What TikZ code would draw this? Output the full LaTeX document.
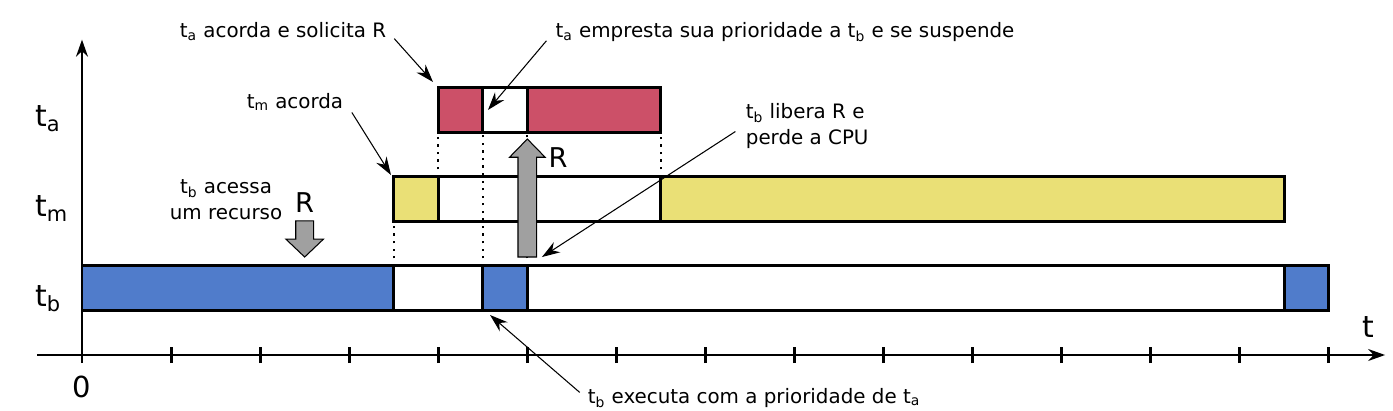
\documentclass[tikz,border=0pt]{standalone}
\usepackage{fontspec}
\setmainfont{DejaVu Sans}
\usetikzlibrary{arrows.meta}

\definecolor{redA}{HTML}{CC5068}
\definecolor{yellowM}{HTML}{EAE076}
\definecolor{blueB}{HTML}{507CCB}
\definecolor{resgray}{HTML}{A0A0A0}

\tikzset{
	bar/.style={draw, line width=1.7pt},
	guide/.style={line width=1.3pt, dash pattern=on 1.3pt off 3pt},
	tickmark/.style={line width=1.7pt},
	resarrow/.style={draw, fill=resgray, line width=0.6pt, line join=miter},
	callout/.style={line width=0.6pt, -{Stealth[length=3.6mm, width=2.4mm]}},
	lbl/.style={font=\fontsize{11.3}{14.8}\selectfont, inner sep=1pt},
	rowlbl/.style={font=\fontsize{17}{20}\selectfont, anchor=base west, inner sep=0pt}
}

\begin{document}
\begin{tikzpicture}[x=1.7814cm, y=1.7814cm]
		\useasboundingbox (-0.9206, -0.6287) rectangle (14.719, 3.9857);
		
		% eixos
		\draw[line width=0.85pt, -{Stealth[length=3.4mm, width=2.4mm]}] (-0.505, 0) -- (14.63, 0);
		\draw[line width=0.85pt, -{Stealth[length=3.4mm, width=2.4mm]}] (0, -0.09) -- (0, 3.54);
		\draw[tickmark] (1, -0.09) -- (1, 0.09);
		\draw[tickmark] (2, -0.09) -- (2, 0.09);
		\draw[tickmark] (3, -0.09) -- (3, 0.09);
		\draw[tickmark] (4, -0.09) -- (4, 0.09);
		\draw[tickmark] (5, -0.09) -- (5, 0.09);
		\draw[tickmark] (6, -0.09) -- (6, 0.09);
		\draw[tickmark] (7, -0.09) -- (7, 0.09);
		\draw[tickmark] (8, -0.09) -- (8, 0.09);
		\draw[tickmark] (9, -0.09) -- (9, 0.09);
		\draw[tickmark] (10, -0.09) -- (10, 0.09);
		\draw[tickmark] (11, -0.09) -- (11, 0.09);
		\draw[tickmark] (12, -0.09) -- (12, 0.09);
		\draw[tickmark] (13, -0.09) -- (13, 0.09);
		\draw[tickmark] (14, -0.09) -- (14, 0.09);
		
		\node[font=\fontsize{16.5}{19}\selectfont, anchor=base, inner sep=0pt] (zero) at (0, -0.48) {0};
		\node[font=\fontsize{17}{19}\selectfont, anchor=base, inner sep=0pt] (tempo) at (14.44, 0.2) {t};
		
		\node[rowlbl] (rowa) at (-0.53, 2.56) {t\textsubscript{a}};
		\node[rowlbl] (rowm) at (-0.53, 1.55) {t\textsubscript{m}};
		\node[rowlbl] (rowb) at (-0.53, 0.55) {t\textsubscript{b}};
		
		% linhas pontilhadas
		\draw[guide] (3.5, 1) -- (3.5, 1.5);
		\draw[guide] (4, 2) -- (4, 2.5);
		\draw[guide] (4.5, 1) -- (4.5, 2.5);
		\draw[guide] (5, 1) -- (5, 2.5);
		\draw[guide] (6.5, 2) -- (6.5, 2.5);
		\draw[guide] (13.5, 1.5) -- (13.5, 2);
		
		% t_b
		\draw[bar, fill=blueB] (0, 0.5) rectangle (3.5, 1);
		\draw[bar, fill=white] (3.5, 0.5) rectangle (4.5, 1);
		\draw[bar, fill=blueB] (4.5, 0.5) rectangle (5, 1);
		\draw[bar, fill=white] (5, 0.5) rectangle (13.5, 1);
		\draw[bar, fill=blueB] (13.5, 0.5) rectangle (14, 1);
		
		% t_m
		\draw[bar, fill=yellowM] (3.5, 1.5) rectangle (4, 2);
		\draw[bar] (4, 1.5) rectangle (6.5, 2);
		\draw[bar, fill=yellowM] (6.5, 1.5) rectangle (13.5, 2);
		
		% t_a
		\draw[bar, fill=redA] (4, 2.5) rectangle (4.5, 3);
		\draw[bar, fill=white] (4.5, 2.5) rectangle (5, 3);
		\draw[bar, fill=redA] (5, 2.5) rectangle (6.5, 3);
		
		% recurso R
		\draw[resarrow] (2.4, 1.506) -- (2.4, 1.3) -- (2.29, 1.3) -- (2.5, 1.1) -- (2.71, 1.3) -- (2.6, 1.3) -- (2.6, 1.506) -- cycle;
		\draw[resarrow] (4.895, 1.1) -- (4.895, 2.22) -- (4.8, 2.22) -- (5, 2.425) -- (5.2, 2.22) -- (5.105, 2.22) -- (5.105, 1.1) -- cycle;
		\node[font=\fontsize{15.5}{18}\selectfont, inner sep=0pt] (rdown) at (2.5, 1.71) {R};
		\node[font=\fontsize{15.5}{18}\selectfont, inner sep=0pt] (rup) at (5.345, 2.22) {R};
		
		% textos
		\node[lbl, anchor=base] (la) at (2.257, 3.56) {t\textsubscript{a} acorda e solicita R};
		\node[lbl, anchor=base] (lm) at (2.391, 2.773) {t\textsubscript{m} acorda};
		\node[lbl, align=center] (lb) at (1.617, 1.74) {t\textsubscript{b} acessa\\um recurso};
		\node[lbl, anchor=base] (le) at (7.893, 3.56) {t\textsubscript{a} empresta sua prioridade a t\textsubscript{b} e se suspende};
		\node[lbl, align=left, anchor=west] (lf) at (7.43, 2.57) {t\textsubscript{b} libera R e\\perde a CPU};
		\node[lbl, anchor=base] (lx) at (7.545, -0.54) {t\textsubscript{b} executa com a prioridade de t\textsubscript{a}};
		
		\coordinate (ca) at (3.941, 3.065);
		\coordinate (cm) at (3.469, 2.021);
		\coordinate (ce) at (4.558, 2.751);
		\coordinate (cf) at (5.164, 1.100);
		\coordinate (cx) at (4.581, 0.449);
		
		\draw[callout, shorten <=0.18cm] (la.east) -- (ca);
		\draw[callout, shorten <=0.25cm] (lm.east) -- (cm);
		\draw[callout, shorten <=0.22cm] (le.west) -- (ce);
		\draw[callout, shorten <=0.2cm] (lf.west) -- (cf);
		\draw[callout, shorten <=0.16cm] (lx.west) -- (cx);
	\end{tikzpicture}
\end{document}
